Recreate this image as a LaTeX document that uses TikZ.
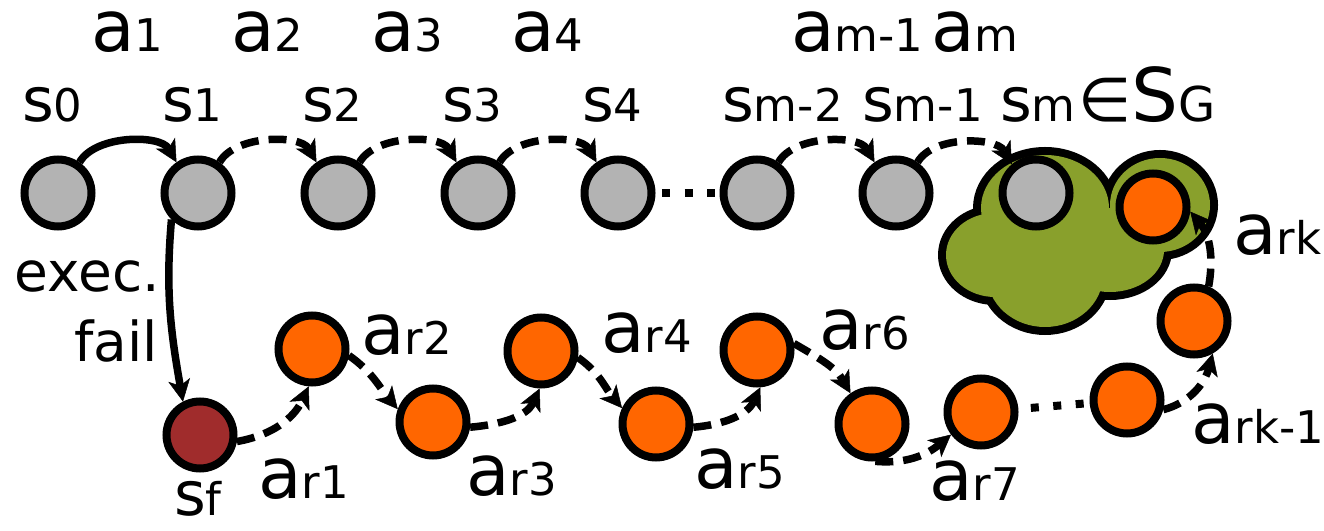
\documentclass[tikz,border=0pt]{standalone}
\usepackage{fontspec}
\setmainfont{DejaVu Sans}
\usetikzlibrary{arrows.meta}

\definecolor{stategray}{HTML}{B3B3B3}
\definecolor{recov}{HTML}{FF6600}
\definecolor{failred}{HTML}{A02C2C}
\definecolor{goalgreen}{HTML}{89A02C}

% label sizes: action letter, state letter, subscript
\newcommand\bigfs{\fontsize{71}{71}\selectfont}
\newcommand\midfs{\fontsize{61}{61}\selectfont}
\newcommand\subfs{\fontsize{45}{45}\selectfont}
\newcommand\act[1]{{\bigfs a}{\subfs #1}}
\newcommand\st[1]{{\midfs s}{\subfs #1}}

\tikzset{
  state/.style={circle, draw=black, line width=8pt, minimum size=67pt, inner sep=0pt},
  grayst/.style={state, fill=stategray},
  recst/.style={state, fill=recov},
  failst/.style={state, fill=failred},
  lbl/.style={inner sep=0pt, anchor=base west},
  rlbl/.style={inner sep=0pt, anchor=base east},
  headtip/.style={-{Stealth[length=22pt,width=22pt,inset=6pt,line width=0.5pt]}},
  solidedge/.style={line width=7.5pt, headtip},
  dashedge/.style={line width=7.5pt, dash pattern=on 18pt off 10pt, headtip},
  dotline/.style={line width=8pt, dash pattern=on 8pt off 14.5pt},
  cloudrim/.style={draw=black, line width=16pt},
}

\begin{document}
\begin{tikzpicture}[x=1pt, y=1pt]
\useasboundingbox (0,0) rectangle (1324,530);

% goal region: union of ellipses, rim first, then the fill on top
\foreach \cx/\cy/\rx/\ry in {1045/322/64/53, 1160/325/50/47, 995/275/49/42, 1045/255/58/52, 1110/280/54/42}
  \draw[cloudrim] (\cx,\cy) ellipse [x radius=\rx, y radius=\ry];
\foreach \cx/\cy/\rx/\ry in {1045/322/64/53, 1160/325/50/47, 995/275/49/42, 1045/255/58/52, 1110/280/54/42}
  \fill[goalgreen] (\cx,\cy) ellipse [x radius=\rx, y radius=\ry];

% planned state sequence
\node[grayst] (s0)  at (58,337)   {};
\node[grayst] (s1)  at (198,337)  {};
\node[grayst] (s2)  at (338,337)  {};
\node[grayst] (s3)  at (478,337)  {};
\node[grayst] (s4)  at (618,337)  {};
\node[grayst] (sm2) at (757,337)  {};
\node[grayst] (sm1) at (896,337)  {};
\node[grayst] (sm)  at (1036,337) {};

% failure state and recovery states
\node[failst] (sf)  at (200,95)   {};
\node[recst]  (r1)  at (312,181)  {};
\node[recst]  (r2)  at (433,108)  {};
\node[recst]  (r3)  at (541,179)  {};
\node[recst]  (r4)  at (656,106)  {};
\node[recst]  (r5)  at (757,180)  {};
\node[recst]  (r6)  at (872,106)  {};
\node[recst]  (r7)  at (981,118)  {};
\node[recst]  (rkm) at (1127,130) {};
\node[recst]  (rk)  at (1194,209) {};
\node[recst]  (rg)  at (1153,323) {};

% action labels, top row
\node[lbl] (la1)  at (91,478)  {\act{1}};
\node[lbl] (la2)  at (231,478) {\act{2}};
\node[lbl] (la3)  at (371,478) {\act{3}};
\node[lbl] (la4)  at (511,478) {\act{4}};
\node[lbl] (lam1) at (791,478) {\act{m-1}};
\node[lbl] (lam)  at (931,478) {\act{m}};

% state labels, top row
\node[lbl] (ls0)  at (22,408)  {\st{0}};
\node[lbl] (ls1)  at (162,408) {\st{1}};
\node[lbl] (ls2)  at (302,408) {\st{2}};
\node[lbl] (ls3)  at (442,408) {\st{3}};
\node[lbl] (ls4)  at (582,408) {\st{4}};
\node[lbl] (lsm2) at (722,408) {\st{m-2}};
\node[lbl] (lsm1) at (862,408) {\st{m-1}};
\node[lbl] (lsm)  at (1000,408) {\st{m}\hspace{3pt}{\midfs ∈}{\fontsize{74}{74}\selectfont S}{\fontsize{48}{48}\selectfont G}};

% recovery labels
\node[lbl] (lsf)  at (174,15)   {\st{f}};
\node[lbl] (lr1)  at (258,32)   {\act{r1}};
\node[lbl] (lr2)  at (361,175)  {\act{r2}};
\node[lbl] (lr3)  at (466,35)   {\act{r3}};
\node[lbl] (lr4)  at (601,177)  {\act{r4}};
\node[lbl] (lr5)  at (694,42)   {\act{r5}};
\node[lbl] (lr6)  at (819,180)  {\act{r6}};
\node[lbl] (lr7)  at (929,30)   {\act{r7}};
\node[lbl] (lrkm) at (1191,87)  {\act{rk-1}};
\node[lbl] (lrk)  at (1233,275) {\act{rk}};
\node[rlbl] (lexec) at (160,238) {\fontsize{55}{55}\selectfont exec.};
\node[rlbl] (lfail) at (158,168) {\fontsize{55}{55}\selectfont fail};

% plan transitions
\draw[solidedge] (s0.55)  to[out=60,in=120,looseness=0.85] (s1.125);
\draw[dashedge]  (s1.55)  to[out=60,in=120,looseness=0.85] (s2.125);
\draw[dashedge]  (s2.55)  to[out=60,in=120,looseness=0.85] (s3.125);
\draw[dashedge]  (s3.55)  to[out=60,in=120,looseness=0.85] (s4.125);
\draw[dotline, dash phase=16pt] (s4) -- (sm2);
\draw[dashedge]  (sm2.55) to[out=60,in=120,looseness=0.85] (sm1.125);
\draw[dashedge]  (sm1.55) to[out=60,in=120,looseness=0.85] (sm.130);

% execution failure
\draw[solidedge] (s1.225) to[out=265,in=100] (sf.117);

% recovery plan
\draw[dashedge] (sf.350) to[out=10,in=245]  (r1.265);
\draw[dashedge] (r1.350) to[out=-35,in=130] (r2.160);
\draw[dashedge] (r2.352) to[out=5,in=245]   (r3.268);
\draw[dashedge] (r3.350) to[out=-35,in=130] (r4.155);
\draw[dashedge] (r4.355) to[out=5,in=245]   (r5.275);
\draw[dashedge] (r5.10)  to[out=-30,in=120] (r6.125);
\draw[dashedge] (r6.275) to[out=-5,in=220]  (r7.217);
\draw[dotline, dash phase=10pt] (r7) -- (rkm);
\draw[dashedge] (rkm.345) to[out=15,in=255] (rk.300);
\draw[dashedge] (rk.67)   to[out=80,in=310] (rg.353);
\end{tikzpicture}
\end{document}
